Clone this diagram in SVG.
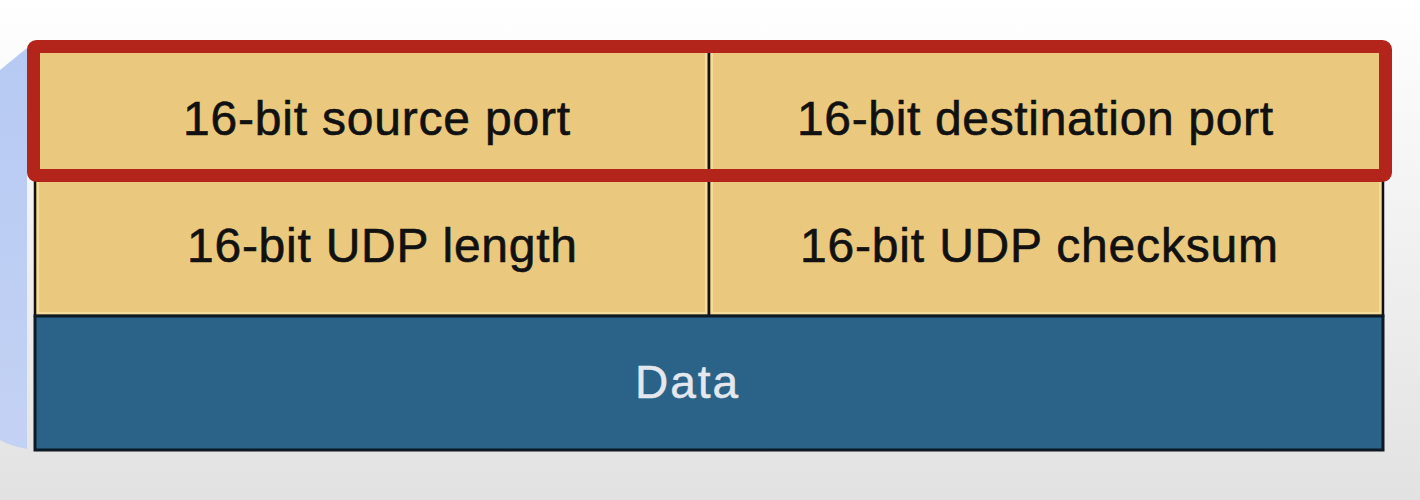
<svg xmlns="http://www.w3.org/2000/svg" width="1420" height="500" viewBox="0 0 1420 500">
  <defs>
    <linearGradient id="bg" x1="0" y1="0" x2="0" y2="1">
      <stop offset="0" stop-color="#ffffff"/>
      <stop offset="0.3" stop-color="#f6f6f6"/>
      <stop offset="1" stop-color="#e2e2e2"/>
    </linearGradient>
    <linearGradient id="side" x1="0" y1="0" x2="0" y2="1">
      <stop offset="0" stop-color="#b7caf3"/>
      <stop offset="1" stop-color="#c3d2f4"/>
    </linearGradient>
  </defs>
  <style>
    .cell { fill: #eac97e; stroke: #111111; stroke-width: 2.5; }
    .hl { fill: none; stroke: #f7e2a6; stroke-width: 1.5; }
    .data { fill: #2b6288; stroke: #0d1a26; stroke-width: 3; }
    .lbl { font-family: "Liberation Sans", Arial, sans-serif; font-size: 48px; fill: #111111; stroke: #111111; stroke-width: 0.6; text-anchor: middle; }
    .dlbl { font-family: "Liberation Sans", Arial, sans-serif; font-size: 46px; fill: #e4e8ee; stroke: #e4e8ee; stroke-width: 0.5; text-anchor: middle; }
    .hi { fill: none; stroke: #b3241a; stroke-width: 13; }
  </style>
  <rect x="0" y="0" width="1420" height="500" fill="url(#bg)"/>
  <path d="M0 70 L27 48 L27 449 Q10 446 0 440 Z" fill="url(#side)"/>
  <g id="source-port">
    <rect class="cell" x="35" y="46" width="674" height="130"/>
    <rect class="hl" x="38" y="49" width="668" height="124"/>
    <text class="lbl" x="376.5" y="135" textLength="387" lengthAdjust="spacing">16-bit source port</text>
  </g>
  <g id="destination-port">
    <rect class="cell" x="709" y="46" width="674" height="130"/>
    <rect class="hl" x="712" y="49" width="668" height="124"/>
    <text class="lbl" x="1035" y="135" textLength="476" lengthAdjust="spacing">16-bit destination port</text>
  </g>
  <g id="udp-length">
    <rect class="cell" x="35" y="176" width="674" height="140"/>
    <rect class="hl" x="38" y="179" width="668" height="134"/>
    <text class="lbl" x="382" y="262" textLength="390" lengthAdjust="spacing">16-bit UDP length</text>
  </g>
  <g id="udp-checksum">
    <rect class="cell" x="709" y="176" width="674" height="140"/>
    <rect class="hl" x="712" y="179" width="668" height="134"/>
    <text class="lbl" x="1039" y="262" textLength="478" lengthAdjust="spacing">16-bit UDP checksum</text>
  </g>
  <g id="data">
    <rect class="data" x="35" y="316" width="1348" height="134"/>
    <text class="dlbl" x="686.5" y="398" textLength="103" lengthAdjust="spacing">Data</text>
  </g>
  <g id="connectors"></g>
  <g id="highlight">
    <rect class="hi" x="33.5" y="46.5" width="1352" height="129" rx="3"/>
  </g>
</svg>
